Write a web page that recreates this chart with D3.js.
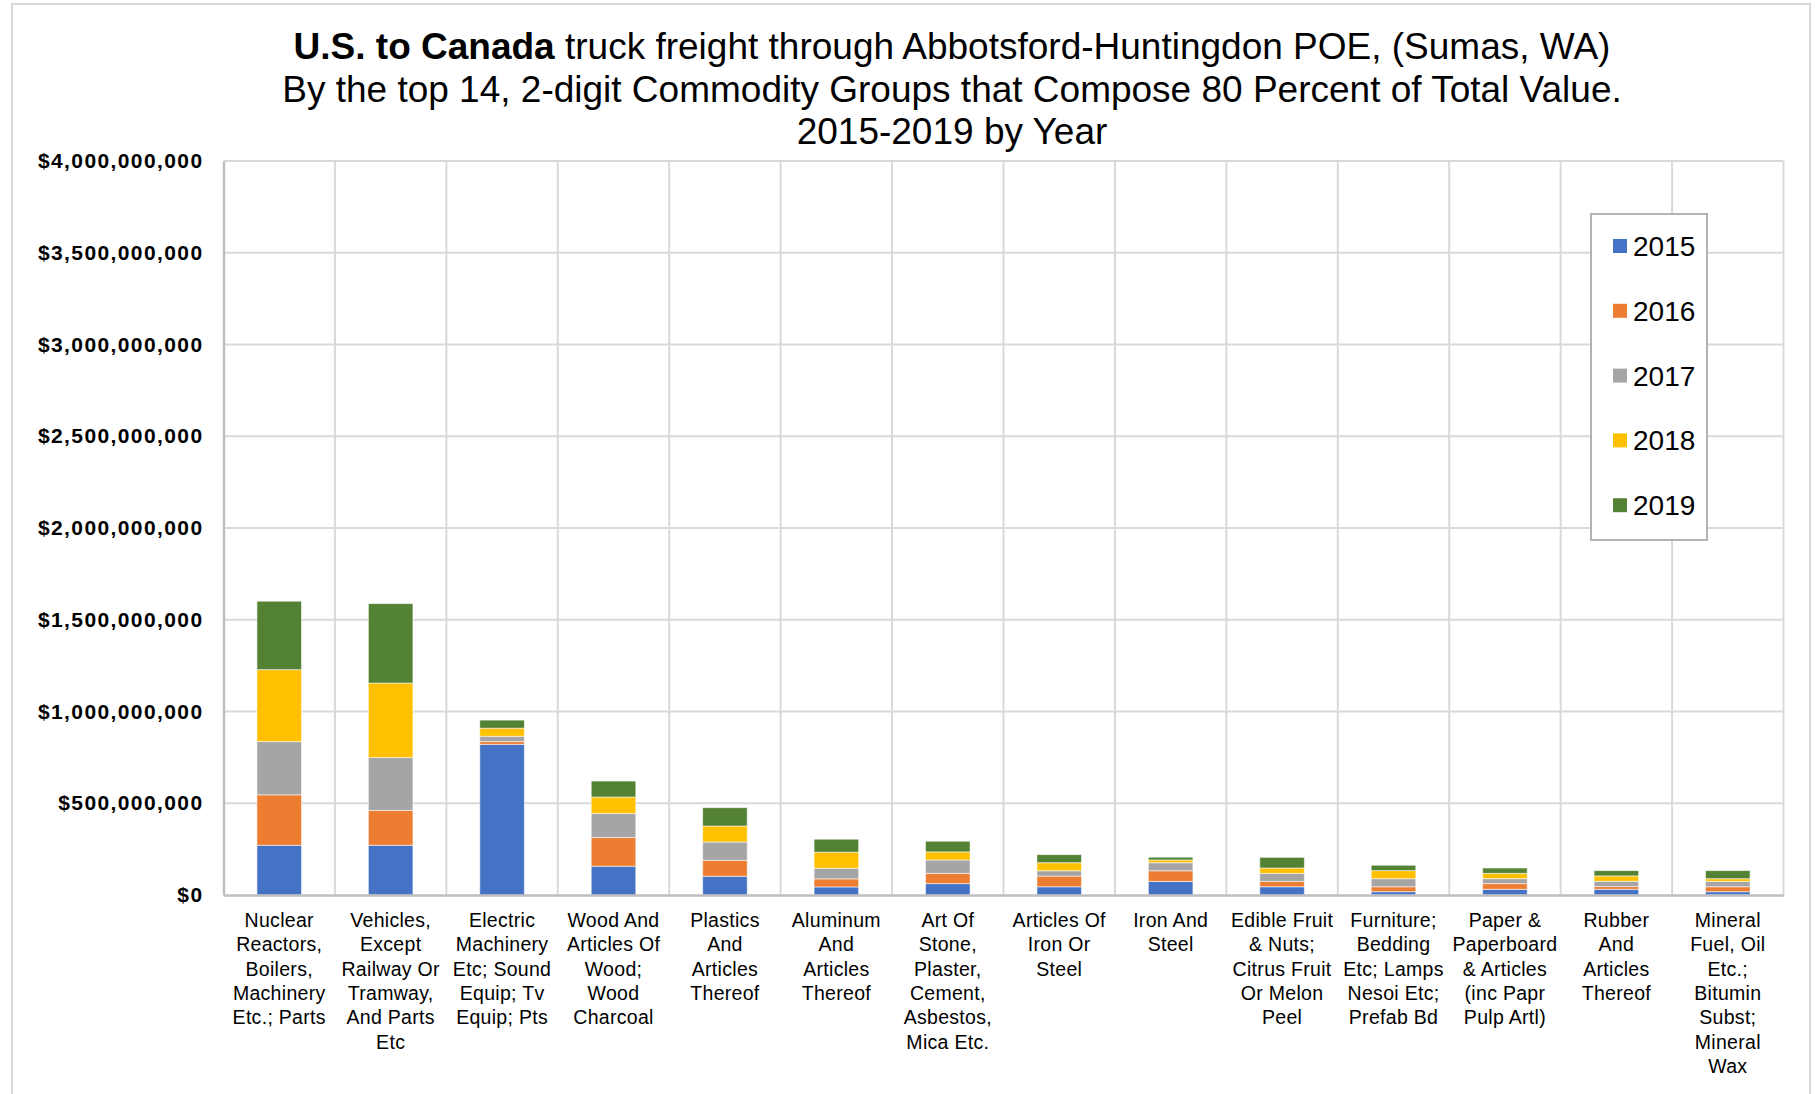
<!DOCTYPE html>
<html>
<head>
<meta charset="utf-8">
<script src="https://cdn.jsdelivr.net/npm/d3@7"></script>
<style>
  html, body { margin: 0; padding: 0; background: #fff; }
  svg { display: block; font-family: "Liberation Sans", Arial, sans-serif; }
</style>
</head>
<body>
<svg id="chart" width="1815" height="1094"></svg>
<script>
// Commodity groups (wrapped label lines as shown under each stack)
const categories = [
  "Nuclear Reactors, Boilers, Machinery Etc.; Parts",
  "Vehicles, Except Railway Or Tramway, And Parts Etc",
  "Electric Machinery Etc; Sound Equip; Tv Equip; Pts",
  "Wood And Articles Of Wood; Wood Charcoal",
  "Plastics And Articles Thereof",
  "Aluminum And Articles Thereof",
  "Art Of Stone, Plaster, Cement, Asbestos, Mica Etc.",
  "Articles Of Iron Or Steel",
  "Iron And Steel",
  "Edible Fruit & Nuts; Citrus Fruit Or Melon Peel",
  "Furniture; Bedding Etc; Lamps Nesoi Etc; Prefab Bd",
  "Paper & Paperboard & Articles (inc Papr Pulp Artl)",
  "Rubber And Articles Thereof",
  "Mineral Fuel, Oil Etc.; Bitumin Subst; Mineral Wax"
];

const categoryLines = [
  ["Nuclear", "Reactors,", "Boilers,", "Machinery", "Etc.; Parts"],
  ["Vehicles,", "Except", "Railway Or", "Tramway,", "And Parts", "Etc"],
  ["Electric", "Machinery", "Etc; Sound", "Equip; Tv", "Equip; Pts"],
  ["Wood And", "Articles Of", "Wood;", "Wood", "Charcoal"],
  ["Plastics", "And", "Articles", "Thereof"],
  ["Aluminum", "And", "Articles", "Thereof"],
  ["Art Of", "Stone,", "Plaster,", "Cement,", "Asbestos,", "Mica Etc."],
  ["Articles Of", "Iron Or", "Steel"],
  ["Iron And", "Steel"],
  ["Edible Fruit", "& Nuts;", "Citrus Fruit", "Or Melon", "Peel"],
  ["Furniture;", "Bedding", "Etc; Lamps", "Nesoi Etc;", "Prefab Bd"],
  ["Paper &", "Paperboard", "& Articles", "(inc Papr", "Pulp Artl)"],
  ["Rubber", "And", "Articles", "Thereof"],
  ["Mineral", "Fuel, Oil", "Etc.;", "Bitumin", "Subst;", "Mineral", "Wax"]
];

const years = ["2015", "2016", "2017", "2018", "2019"];

// Truck freight value by year, in US dollars (one entry per commodity group)
const values2015 = [271e6, 271e6, 821e6, 157e6, 102e6, 44e6, 62e6, 45e6, 74e6, 45e6, 18e6, 31e6, 31e6, 18e6];
const values2016 = [275e6, 190e6, 15e6, 156e6, 87e6, 44e6, 56e6, 58e6, 58e6, 29e6, 27e6, 31e6, 15e6, 27e6];
const values2017 = [290e6, 288e6, 29e6, 131e6, 100e6, 58e6, 73e6, 29e6, 44e6, 44e6, 44e6, 27e6, 29e6, 29e6];
const values2018 = [392e6, 406e6, 44e6, 90e6, 87e6, 87e6, 44e6, 44e6, 15e6, 29e6, 44e6, 29e6, 29e6, 15e6];
const values2019 = [373e6, 433e6, 44e6, 87e6, 100e6, 71e6, 58e6, 44e6, 15e6, 58e6, 29e6, 29e6, 29e6, 44e6];

const yTicks = [0, 5e8, 1e9, 1.5e9, 2e9, 2.5e9, 3e9, 3.5e9, 4e9];

const yearColors = ["#4472C4", "#ED7D31", "#A5A5A5", "#FFC000", "#548235"];

const seriesValues = [values2015, values2016, values2017, values2018, values2019];

// Table for the stack generator
const table = categories.map((c, i) => {
  const row = { category: c, index: i };
  years.forEach((y, k) => { row[y] = seriesValues[k][i]; });
  return row;
});

const svg = d3.select("#chart");

const plot = { left: 223.5, right: 1783.5, top: 161, bottom: 895 };

// Chart frame
svg.append("rect")
  .attr("x", 12).attr("y", 4)
  .attr("width", 1798).attr("height", 1100)
  .attr("fill", "#fff")
  .attr("stroke", "#d9d9d9").attr("stroke-width", 2);

const x = d3.scaleBand()
  .domain(d3.range(categories.length))
  .range([plot.left, plot.right])
  .paddingInner(0.6)
  .paddingOuter(0.3);

const y = d3.scaleLinear()
  .domain([0, 4e9])
  .range([plot.bottom, plot.top]);

// Horizontal gridlines
svg.append("g")
  .selectAll("line")
  .data(yTicks.filter(t => t > 0))
  .join("line")
  .attr("x1", plot.left).attr("x2", plot.right)
  .attr("y1", d => y(d)).attr("y2", d => y(d))
  .attr("stroke", "#d9d9d9").attr("stroke-width", 2);

// Vertical gridlines at category boundaries
const step = x.step();
const boundaries = d3.range(categories.length + 1).map(i => plot.left + i * step);
svg.append("g")
  .selectAll("line")
  .data(boundaries.slice(1))
  .join("line")
  .attr("x1", d => d).attr("x2", d => d)
  .attr("y1", plot.top).attr("y2", plot.bottom)
  .attr("stroke", "#d9d9d9").attr("stroke-width", 2);

// Stacked bars
const stack = d3.stack().keys(years);
const layers = stack(table);

svg.append("g")
  .selectAll("g")
  .data(layers)
  .join("g")
  .attr("fill", (d, k) => yearColors[k])
  .selectAll("rect")
  .data(d => d)
  .join("rect")
  .attr("x", d => x(d.data.index))
  .attr("width", x.bandwidth())
  .attr("y", d => y(d[1]))
  .attr("height", d => y(d[0]) - y(d[1]))
  .attr("stroke", "rgba(255,255,255,0.55)")
  .attr("stroke-width", 1);

// Y axis
const yAxis = d3.axisLeft(y)
  .tickValues(yTicks)
  .tickSize(0)
  .tickPadding(20)
  .tickFormat(d => "$" + d3.format(",")(d));

const gy = svg.append("g")
  .attr("transform", `translate(${plot.left},0)`)
  .call(yAxis);
gy.select(".domain").attr("stroke", "#bfbfbf").attr("stroke-width", 2.5);
gy.selectAll("text")
  .attr("font-family", "Liberation Sans, Arial, sans-serif")
  .attr("font-size", 21)
  .attr("font-weight", "bold")
  .attr("letter-spacing", "1.4px")
  .attr("fill", "#000");

// X axis with wrapped labels
const xAxis = d3.axisBottom(x)
  .tickSize(0)
  .tickPadding(0)
  .tickFormat(() => "");

const gx = svg.append("g")
  .attr("transform", `translate(0,${plot.bottom})`)
  .call(xAxis);
gx.select(".domain").attr("stroke", "#bfbfbf").attr("stroke-width", 2.5);
gx.selectAll(".tick text").each(function(d) {
  const t = d3.select(this)
    .attr("y", 0)
    .attr("dy", null)
    .attr("font-family", "Liberation Sans, Arial, sans-serif")
    .attr("font-size", 19.5)
    .attr("letter-spacing", "0.3px")
    .attr("fill", "#000")
    .attr("text-anchor", "middle");
  categoryLines[d].forEach((line, j) => {
    t.append("tspan")
      .attr("x", 0)
      .attr("y", 32 + j * 24.3)
      .text(line);
  });
});

// Title
const title = svg.append("text")
  .attr("text-anchor", "middle")
  .attr("font-size", 37)
  .attr("fill", "#000");
const t1 = title.append("tspan").attr("x", 952).attr("y", 59);
t1.append("tspan").attr("font-weight", "bold").text("U.S. to Canada");
t1.append("tspan").text(" truck freight through Abbotsford-Huntingdon POE, (Sumas, WA)");
title.append("tspan").attr("x", 952).attr("y", 101.5)
  .text("By the top 14, 2-digit Commodity Groups that Compose 80 Percent of Total Value.");
title.append("tspan").attr("x", 952).attr("y", 144)
  .text("2015-2019 by Year");

// Legend
const legend = svg.append("g");
legend.append("rect")
  .attr("x", 1591).attr("y", 214)
  .attr("width", 116).attr("height", 326)
  .attr("fill", "#fff")
  .attr("stroke", "#b3b3b3").attr("stroke-width", 2);
const items = legend.selectAll("g.item")
  .data(years)
  .join("g")
  .attr("class", "item")
  .attr("transform", (d, i) => `translate(1613,${246 + i * 64.8})`);
items.append("rect")
  .attr("x", 0).attr("y", -7)
  .attr("width", 14).attr("height", 14)
  .attr("fill", (d, i) => yearColors[i]);
items.append("text")
  .attr("x", 20).attr("y", 0)
  .attr("dy", "0.36em")
  .attr("font-size", 28)
  .attr("fill", "#000")
  .text(d => d);
</script>
</body>
</html>
